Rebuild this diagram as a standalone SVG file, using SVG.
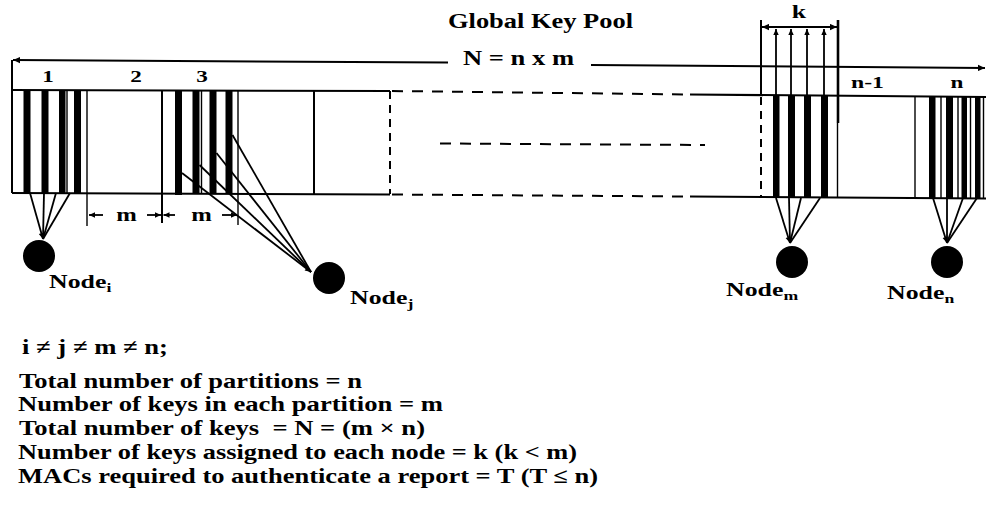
<svg xmlns="http://www.w3.org/2000/svg" width="986" height="516" viewBox="0 0 986 516">
<style>
  .t { font-family: "Liberation Serif", "Times New Roman", serif; font-weight: bold; font-size: 19px; fill: #000; }
  .s { font-size: 17px; }
  .lg { font-size: 21px; }
  .ln { stroke: #000; stroke-width: 2; fill: none; }
  .thin { stroke: #000; stroke-width: 1.4; fill: none; }
  .thick { stroke: #000; stroke-width: 2.6; fill: none; }
  .dash { stroke: #000; stroke-width: 2; fill: none; stroke-dasharray: 11 9; }
  .vdash { stroke: #000; stroke-width: 2; fill: none; stroke-dasharray: 8 6; }
  .bar { fill: #000; }
  .con { stroke: #000; stroke-width: 1.8; fill: none; }
  .node { fill: #000; }
</style>
<defs>
  <marker id="ah" viewBox="0 0 10 10" refX="10" refY="5" markerWidth="8" markerHeight="7" markerUnits="userSpaceOnUse" orient="auto-start-reverse">
    <path d="M0,0.5 L10,5 L0,9.5 z" fill="#000"/>
  </marker>
  <marker id="ahs" viewBox="0 0 10 10" refX="10" refY="5" markerWidth="7" markerHeight="6" markerUnits="userSpaceOnUse" orient="auto">
    <path d="M0,0.5 L10,5 L0,9.5 z" fill="#000"/>
  </marker>
</defs>
<rect width="986" height="516" fill="#fff"/>

<!-- Titles -->
<text class="t" x="448" y="28" textLength="185" lengthAdjust="spacingAndGlyphs" style="font-size:20px">Global Key Pool</text>
<text class="t" x="463" y="65" textLength="111" lengthAdjust="spacingAndGlyphs" style="font-size:20px">N = n x m</text>

<!-- Key pool structure -->
<g id="key-pool">
  <line class="ln" x1="12" y1="60" x2="12" y2="193"/>
  <polyline class="ln" points="12,90 390,91"/>
  <polyline class="dash" points="392,91 690,94.5"/>
  <polyline class="ln" points="690,94.5 986,97"/>
  <polyline class="ln" points="12,193 390,194.5"/>
  <polyline class="dash" points="392,194.5 690,196.5"/>
  <polyline class="ln" points="690,196.5 986,198.5"/>
  <line class="dash" x1="440" y1="143.5" x2="705" y2="145"/>
  <line class="vdash" x1="390" y1="91" x2="390" y2="194"/>

  <!-- partition 1 -->
  <rect class="bar" x="23.5" y="90.5" width="7" height="103"/>
  <rect class="bar" x="41.5" y="90.5" width="7" height="103"/>
  <rect class="bar" x="59" y="90.5" width="6.5" height="103"/>
  <line class="thin" x1="67" y1="90.5" x2="67" y2="193.5"/>
  <rect class="bar" x="74" y="90.5" width="7" height="103"/>
  <line class="thin" x1="87" y1="90.5" x2="87" y2="226"/>
  <!-- partition 2 boundary -->
  <line class="ln" x1="162" y1="90.5" x2="162" y2="223"/>
  <!-- partition 3 -->
  <rect class="bar" x="175" y="91" width="7" height="104"/>
  <rect class="bar" x="192.5" y="91" width="7" height="103"/>
  <line class="thin" x1="201.5" y1="91" x2="201.5" y2="194"/>
  <rect class="bar" x="209.5" y="91" width="7" height="103"/>
  <rect class="bar" x="225.5" y="91" width="7" height="103"/>
  <line class="thin" x1="238" y1="91" x2="238" y2="225"/>
  <line class="ln" x1="314" y1="91" x2="314" y2="194"/>

  <!-- partition m (k keys) -->
  <line class="ln" x1="761" y1="20" x2="761" y2="96"/>
  <line class="vdash" x1="761" y1="97" x2="761" y2="198"/>
  <rect class="bar" x="773" y="96" width="6.5" height="102"/>
  <rect class="bar" x="788" y="96" width="7" height="102"/>
  <rect class="bar" x="804" y="96" width="7" height="102"/>
  <rect class="bar" x="821" y="96" width="7" height="102"/>
  <line class="thick" x1="838" y1="20" x2="838" y2="123"/>
  <line class="thin" x1="837.5" y1="123" x2="837.5" y2="198"/>

  <!-- partition n-1 / n -->
  <line class="thin" x1="915" y1="96.5" x2="915" y2="198.5"/>
  <rect class="bar" x="929" y="96.5" width="6.5" height="102"/>
  <line class="thin" x1="941" y1="96.5" x2="941" y2="198.5"/>
  <rect class="bar" x="946" y="96.5" width="7" height="102"/>
  <line class="thin" x1="958" y1="96.5" x2="958" y2="198.5"/>
  <rect class="bar" x="961.5" y="96.5" width="5.5" height="102"/>
  <line class="thin" x1="970.5" y1="96.5" x2="970.5" y2="198.5"/>
  <rect class="bar" x="975" y="96.5" width="5.5" height="102"/>
  <line class="thin" x1="983.5" y1="96.5" x2="983.5" y2="198.5"/>

  <!-- partition labels -->
  <text class="t s" transform="translate(48,82) scale(1.36,1)" text-anchor="middle">1</text>
  <text class="t s" transform="translate(136,82) scale(1.36,1)" text-anchor="middle">2</text>
  <text class="t s" transform="translate(202,82) scale(1.36,1)" text-anchor="middle">3</text>
  <text class="t s" x="851" y="88" textLength="33" lengthAdjust="spacingAndGlyphs">n-1</text>
  <text class="t s" transform="translate(957,88) scale(1.36,1)" text-anchor="middle">n</text>
  <text class="t" transform="translate(799,18) scale(1.36,1)" text-anchor="middle">k</text>
  <text class="t" transform="translate(126.5,221) scale(1.3,1)" text-anchor="middle">m</text>
  <text class="t" transform="translate(201.5,221) scale(1.3,1)" text-anchor="middle">m</text>
</g>

<!-- Connectors -->
<g id="connectors">
  <line class="ln" x1="448" y1="62.5" x2="13" y2="60" marker-end="url(#ah)"/>
  <line class="ln" x1="591" y1="65" x2="985" y2="68" marker-end="url(#ah)"/>
  <line class="con" x1="762" y1="27" x2="837" y2="27" marker-start="url(#ah)" marker-end="url(#ah)"/>
  <line class="con" x1="776" y1="96" x2="776" y2="29" marker-end="url(#ahs)"/>
  <line class="con" x1="791" y1="96" x2="791" y2="29" marker-end="url(#ahs)"/>
  <line class="con" x1="807" y1="96" x2="807" y2="29" marker-end="url(#ahs)"/>
  <line class="con" x1="824" y1="96" x2="824" y2="29" marker-end="url(#ahs)"/>
  <line class="con" x1="103" y1="215" x2="89" y2="215" marker-end="url(#ahs)"/>
  <line class="con" x1="147" y1="215" x2="161" y2="215" marker-end="url(#ahs)"/>
  <line class="con" x1="175" y1="215" x2="163.5" y2="215" marker-end="url(#ahs)"/>
  <line class="con" x1="222" y1="215" x2="237" y2="215" marker-end="url(#ahs)"/>
  <line class="con" x1="30" y1="193" x2="43" y2="239" marker-end="url(#ahs)"/>
  <line class="con" x1="44" y1="193" x2="43" y2="239"/>
  <line class="con" x1="56" y1="193" x2="43" y2="239"/>
  <line class="con" x1="70" y1="193" x2="43" y2="239"/>
  <line class="con" x1="182" y1="173" x2="311" y2="272" marker-end="url(#ahs)"/>
  <line class="con" x1="199.5" y1="165" x2="311" y2="272"/>
  <line class="con" x1="216.5" y1="153" x2="311" y2="272"/>
  <line class="con" x1="232.5" y1="135" x2="311" y2="272"/>
  <line class="con" x1="776" y1="198" x2="790" y2="243" marker-end="url(#ahs)"/>
  <line class="con" x1="789" y1="198" x2="790" y2="243"/>
  <line class="con" x1="801" y1="198" x2="790" y2="243"/>
  <line class="con" x1="820" y1="198" x2="790" y2="243"/>
  <line class="con" x1="933" y1="198" x2="947" y2="243" marker-end="url(#ahs)"/>
  <line class="con" x1="947" y1="198" x2="947" y2="243"/>
  <line class="con" x1="963" y1="198" x2="947" y2="243"/>
  <line class="con" x1="977" y1="198" x2="947" y2="243"/>
</g>

<!-- Nodes -->
<g id="node-i">
  <circle class="node" cx="39" cy="256" r="16"/>
  <text class="t" transform="translate(49,288) scale(1.36,1)">Node<tspan font-size="13" dy="4">i</tspan></text>
</g>
<g id="node-j">
  <circle class="node" cx="329" cy="278" r="16"/>
  <text class="t" transform="translate(350,304) scale(1.36,1)">Node<tspan font-size="13" dy="4">j</tspan></text>
</g>
<g id="node-m">
  <circle class="node" cx="792" cy="262" r="16"/>
  <text class="t" transform="translate(726,296) scale(1.36,1)">Node<tspan font-size="13" dy="4">m</tspan></text>
</g>
<g id="node-n">
  <circle class="node" cx="947" cy="262" r="16"/>
  <text class="t" transform="translate(887,299) scale(1.36,1)">Node<tspan font-size="13" dy="4">n</tspan></text>
</g>

<!-- Legend text -->
<g id="legend">
  <text class="t lg" x="22" y="354" textLength="146" lengthAdjust="spacingAndGlyphs">i ≠ j ≠ m ≠ n;</text>
  <text class="t lg" x="19" y="388" textLength="343" lengthAdjust="spacingAndGlyphs">Total number of partitions = n</text>
  <text class="t lg" x="18" y="411" textLength="425" lengthAdjust="spacingAndGlyphs">Number of keys in each partition = m</text>
  <text class="t lg" x="19" y="435" textLength="406" lengthAdjust="spacingAndGlyphs">Total number of keys&#160; = N = (m × n)</text>
  <text class="t lg" x="18" y="459" textLength="559" lengthAdjust="spacingAndGlyphs">Number of keys assigned to each node = k (k &lt; m)</text>
  <text class="t lg" x="18" y="483" textLength="580" lengthAdjust="spacingAndGlyphs">MACs required to authenticate a report = T (T ≤ n)</text>
</g>
</svg>
